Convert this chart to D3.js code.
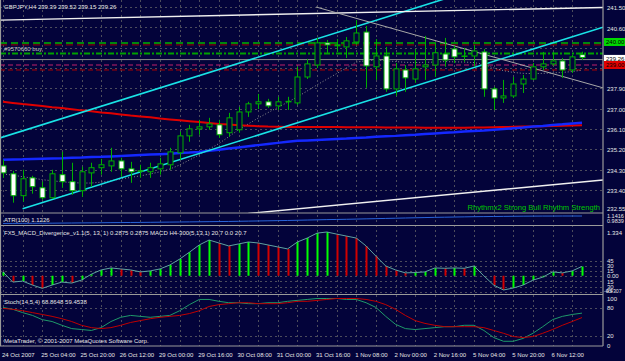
<!DOCTYPE html>
<html>
<head>
<meta charset="utf-8">
<title>GBPJPY,H4</title>
<script src="https://d3js.org/d3.v7.min.js"></script>
<style>
body { margin: 0; background: #03033a; }
svg { display: block; }
text { font-family: "Liberation Sans", Arial, sans-serif; }
</style>
</head>
<body>
<div id="chart"></div>
<script>
// time labels, one every 4 bars
const timeLabels = ["24 Oct 2007", "25 Oct 04:00", "25 Oct 20:00", "26 Oct 12:00", "29 Oct 00:00",
	"29 Oct 16:00", "30 Oct 08:00", "31 Oct 00:00", "31 Oct 16:00", "1 Nov 08:00", "2 Nov 00:00",
	"2 Nov 16:00", "5 Nov 04:00", "5 Nov 20:00", "6 Nov 12:00"];

// H4 candles
const opens = [234.46,234.11,233.14,233.93,233.49,233.05,234.07,233.76,233.36,234.15,
	234.38,234.46,234.68,234.33,234.24,234.20,234.33,234.51,235.04,235.79,
	236.10,236.19,236.28,235.93,236.06,236.85,237.21,237.30,237.12,237.30,
	237.25,238.40,238.93,239.91,239.82,239.73,239.95,240.39,238.85,239.33,
	237.87,238.71,238.31,238.85,238.93,239.42,239.64,239.33,239.33,239.51,
	237.87,237.47,237.56,238.09,238.31,238.85,238.98,239.11,238.71,239.39];
const highs = [234.73,234.24,234.29,234.02,233.76,234.29,235.08,234.60,234.42,234.60,
	234.77,235.26,234.82,234.64,234.51,234.60,234.82,235.26,235.97,236.28,
	236.50,236.59,236.50,236.81,237.07,237.30,237.65,237.43,237.52,237.52,
	238.85,239.20,240.13,240.04,240.08,240.17,240.92,240.66,240.08,239.73,
	239.02,238.93,239.64,240.22,239.91,240.13,239.78,239.69,239.82,239.64,
	237.96,238.27,238.40,238.49,239.02,239.51,239.51,239.24,239.38,239.52];
const lows = [233.93,232.83,232.87,233.23,232.96,233.00,233.49,233.18,233.09,233.54,
	234.07,234.20,233.98,233.71,233.93,233.93,234.07,234.29,234.73,235.53,
	235.84,236.06,235.70,235.75,235.93,236.63,236.98,237.03,236.94,236.94,
	237.16,238.31,238.80,239.47,239.51,239.24,239.82,237.92,238.27,237.74,
	237.56,237.74,238.14,238.27,238.40,238.85,239.02,239.07,238.85,237.52,
	236.94,237.25,237.47,237.69,238.27,238.71,238.89,238.36,238.58,239.15];
const closes = [234.15,233.14,233.89,233.54,233.05,234.11,233.76,233.36,234.20,234.38,
	234.51,234.68,234.33,234.20,234.22,234.38,234.55,235.08,235.79,236.10,
	236.19,236.32,235.84,236.59,236.85,237.21,237.30,237.12,237.30,237.32,
	238.40,238.98,239.91,239.82,239.78,240.00,240.35,238.89,239.33,237.87,
	238.76,238.36,238.76,238.93,239.47,239.15,239.29,239.33,239.55,237.87,
	237.47,237.56,238.09,238.31,238.85,238.98,239.11,238.71,239.29,239.26];

// moving averages
const redMA = [237.30,237.25,237.20,237.16,237.11,237.06,237.02,236.97,236.92,236.88,
	236.83,236.79,236.74,236.69,236.65,236.61,236.56,236.52,236.48,236.44,
	236.40,236.36,236.32,236.29,236.26,236.24,236.22,236.20,236.19,236.18,
	236.18,236.18,236.18,236.18,236.18,236.17,236.17,236.17,236.17,236.16,
	236.16,236.16,236.16,236.15,236.15,236.15,236.15,236.15,236.16,236.16,
	236.17,236.18,236.19,236.20,236.21,236.22,236.23,236.24,236.25,236.26];
const blueMA = [234.73,234.74,234.75,234.77,234.78,234.79,234.80,234.82,234.83,234.85,
	234.86,234.88,234.90,234.92,234.94,234.96,234.98,235.00,235.03,235.05,
	235.08,235.13,235.18,235.23,235.28,235.33,235.38,235.43,235.48,235.53,
	235.57,235.59,235.61,235.63,235.65,235.67,235.70,235.72,235.75,235.77,
	235.79,235.82,235.84,235.87,235.90,235.93,235.95,235.98,236.01,236.03,
	236.06,236.09,236.13,236.16,236.20,236.23,236.27,236.30,236.34,236.37];
const dottedMA = [234.10,234.05,233.98,233.92,233.85,233.80,233.76,233.72,233.70,233.70,
	233.74,233.80,233.88,233.95,234.02,234.10,234.20,234.32,234.50,234.72,
	234.95,235.20,235.45,235.75,236.06,236.32,236.58,236.82,237.05,237.28,
	237.52,237.78,238.05,238.30,238.55,238.80,239.06,239.12,239.15,239.12,
	239.08,239.05,239.04,239.05,239.06,239.08,239.07,239.06,239.04,238.95,
	238.80,238.68,238.60,238.56,238.55,238.56,238.58,238.60,238.64,238.70];

// trend lines: [bar, price] anchors, drawn as rays to the right
const cyanUpper = [[-0.3, 235.70], [40, 241.18]];
const cyanLower = [[2, 232.56], [40, 237.73]];
const whiteTop = [[-0.3, 240.92], [59, 241.46]];
const whiteBottom = [[25, 232.35], [59, 233.75]];
const grayDown = [[31.9, 241.5], [59, 238.18]];

// order / price levels
const takeProfit = 239.905;
const stopLevel = 239.82;
const openPrice = 239.44;
const bidPrice = 239.17;
const pinkLevel = 238.93;
const redLevel = 238.71;
const priceTicks = [241.50, 240.60, 239.70, 238.80, 237.90, 237.00, 236.10, 235.20, 234.30, 233.40];
const axisBoxes = [["240.00", 239.95], ["239.26", 239.20], ["239.00", 238.93]];

// ATR(100)
const atrValues = [0.985,0.986,0.987,0.988,0.989,0.990,0.992,0.993,0.995,0.996,
	0.998,1.000,1.001,1.003,1.004,1.006,1.008,1.010,1.012,1.014,
	1.016,1.018,1.020,1.022,1.025,1.028,1.031,1.034,1.037,1.040,
	1.044,1.048,1.052,1.056,1.059,1.062,1.066,1.070,1.074,1.078,
	1.082,1.086,1.090,1.094,1.098,1.101,1.104,1.107,1.110,1.112,
	1.114,1.116,1.118,1.120,1.121,1.122,1.122,1.123,1.123,1.1226];

// FX5 MACD divergence histogram
const macdValues = [0.12,-0.19,-0.16,-0.28,-0.38,-0.28,-0.19,-0.22,-0.13,0.05,
	0.18,0.24,0.21,0.18,0.12,0.15,0.21,0.33,0.51,0.72,
	0.94,1.09,1.00,0.91,0.97,1.03,1.00,0.94,0.88,0.82,
	1.03,1.15,1.30,1.334,1.27,1.21,1.15,0.91,0.60,0.30,
	0.18,0.09,0.10,0.12,0.24,0.23,0.24,0.23,0.30,0.00,
	-0.28,-0.4307,-0.37,-0.28,-0.13,-0.04,0.12,0.09,0.15,0.2875];
const macdTicks = [45, 30, 15, 0, -15, -30, -45];

// Stochastic(14,5,4)
const stochMain = [81,77,70,64,55,51,43,36,34,32,
	38,51,60,64,62,60,62,64,74,87,
	98,98,94,91,91,89,89,91,91,94,
	96,98,100,100,100,98,98,91,81,62,
	45,36,34,36,38,40,40,43,43,32,
	17,9,9,15,26,40,55,62,66,68.86];
const stochSignal = [79,77,74,70,66,62,57,51,43,38,
	36,38,43,49,53,57,60,62,64,68,
	74,83,87,89,91,91,89,89,89,91,
	94,94,96,98,100,100,100,98,94,87,
	77,64,53,47,43,40,40,40,40,38,
	32,26,19,17,19,26,34,43,51,59.45];
const stochTicks = [100, 80, 20, 0];

const W = 625, H = 361, axisX = 603;
const mainTop = 0, mainBottom = 213, atrBottom = 225.5, macdBottom = 294.5, stochBottom = 346;
const bg = "#03033a", gridColor = "#4c4c5c", textColor = "#e6e6e6";

const svg = d3.select("#chart").append("svg").attr("width", W).attr("height", H);
svg.append("rect").attr("width", W).attr("height", H).attr("fill", bg);

const x = d3.scaleLinear().domain([0, opens.length - 1]).range([3, 582]);
const y = d3.scaleLinear().domain([232.55, 241.50]).range([209, 7]);
const yAtr = d3.scaleLinear().domain([0.9839, 1.1416]).range([223.5, 215]);
const yMacd = d3.scaleLinear().domain([-0.4307, 1.334]).range([290, 232]);
const yMacd2 = d3.scaleLinear().domain([-45, 45]).range([291.8, 260.6]);
const yStoch = d3.scaleLinear().domain([0, 100]).range([345.5, 298.5]);

function clip(id, y0, y1) {
	svg.append("clipPath").attr("id", id).append("rect")
		.attr("x", 0).attr("y", y0).attr("width", axisX).attr("height", y1 - y0);
	return svg.append("g").attr("clip-path", "url(#" + id + ")");
}
const gMain = clip("cMain", mainTop, mainBottom);
const gAtr = clip("cAtr", mainBottom, atrBottom);
const gMacd = clip("cMacd", atrBottom, macdBottom);
const gStoch = clip("cStoch", macdBottom, stochBottom);

// vertical grid every 2 bars
const gridBars = d3.range(0, opens.length, 2);
[gMain, gAtr, gMacd, gStoch].forEach(g => {
	g.selectAll(null).data(gridBars).join("line")
		.attr("x1", d => Math.round(x(d)) + 0.5).attr("x2", d => Math.round(x(d)) + 0.5)
		.attr("y1", 0).attr("y2", stochBottom)
		.attr("stroke", gridColor).attr("stroke-dasharray", "2,3");
});

// horizontal grids
const hgrid = (g, data, scale) => g.selectAll(null).data(data).join("line")
	.attr("x1", 0).attr("x2", axisX)
	.attr("y1", d => Math.round(scale(d)) + 0.5).attr("y2", d => Math.round(scale(d)) + 0.5)
	.attr("stroke", gridColor).attr("stroke-dasharray", "2,3");
hgrid(gMain, priceTicks, y);
hgrid(gMacd, macdTicks, yMacd2);
hgrid(gStoch, [80, 20], yStoch);

// ---- main panel ----
function hline(g, price, color, dash, width) {
	g.append("line").attr("x1", 0).attr("x2", axisX)
		.attr("y1", y(price)).attr("y2", y(price))
		.attr("stroke", color).attr("stroke-width", width || 1)
		.attr("stroke-dasharray", dash);
}
hline(gMain, takeProfit, "#00b400", "7,4", 1.5);
hline(gMain, stopLevel, "#a00000", "7,4", 1);
hline(gMain, openPrice, "#00a000", "6,2,2,2", 2);
hline(gMain, bidPrice, "#8a8a8a", null, 1);
hline(gMain, pinkLevel, "#c0206a", "5,3", 1);
hline(gMain, redLevel, "#b00000", "5,3", 1);

const maLine = v => d3.line().x((d, i) => x(i)).y(d => y(d))(v);
gMain.append("path").attr("d", maLine(dottedMA)).attr("fill", "none")
	.attr("stroke", "#8c8c8c").attr("stroke-width", 1).attr("stroke-dasharray", "1,2");
gMain.append("path").attr("d", maLine(redMA)).attr("fill", "none")
	.attr("stroke", "#e00000").attr("stroke-width", 2);
gMain.append("path").attr("d", maLine(blueMA)).attr("fill", "none")
	.attr("stroke", "#1428ff").attr("stroke-width", 2.5);

function ray(g, pts, color, width) {
	const [[b1, p1], [b2, p2]] = pts;
	const bEnd = x.invert(axisX);
	const pEnd = p1 + (p2 - p1) * (bEnd - b1) / (b2 - b1);
	g.append("line")
		.attr("x1", x(b1)).attr("y1", y(p1))
		.attr("x2", x(bEnd)).attr("y2", y(pEnd))
		.attr("stroke", color).attr("stroke-width", width);
}
ray(gMain, cyanUpper, "#19e3e6", 1.6);
ray(gMain, cyanLower, "#19e3e6", 1.6);
ray(gMain, whiteTop, "#f0f0f0", 1.4);
ray(gMain, whiteBottom, "#f0f0f0", 1.4);
ray(gMain, grayDown, "#a8a8a8", 1);

// candles
const bars = d3.range(opens.length);
const candleColor = "#00b000";
gMain.selectAll(".wick").data(bars).join("line")
	.attr("x1", i => Math.round(x(i)) + 0.5).attr("x2", i => Math.round(x(i)) + 0.5)
	.attr("y1", i => y(highs[i])).attr("y2", i => y(lows[i]))
	.attr("stroke", candleColor);
gMain.selectAll(".body").data(bars).join("rect")
	.attr("x", i => Math.round(x(i)) - 2)
	.attr("width", 5)
	.attr("y", i => y(Math.max(opens[i], closes[i])))
	.attr("height", i => Math.max(0.5, Math.abs(y(opens[i]) - y(closes[i]))))
	.attr("fill", i => closes[i] < opens[i] ? "#ffffff" : bg)
	.attr("stroke", candleColor);

gMain.append("text").attr("x", 4).attr("y", 9).attr("fill", textColor).attr("font-size", 6)
	.text("GBPJPY,H4  239.39 239.52 239.15 239.26");
gMain.append("text").attr("x", 4).attr("y", 51).attr("fill", "#c8c8c8").attr("font-size", 6)
	.text("#9570660 buy");
gMain.append("text").attr("x", 600).attr("y", 210).attr("fill", "#00c800")
	.attr("font-size", 7.6).attr("text-anchor", "end")
	.text("Rhythmx2 Strong Bull Rhythm Strength");

// ---- ATR panel ----
gAtr.append("path").attr("d", d3.line().x((d, i) => x(i)).y(d => yAtr(d))(atrValues))
	.attr("fill", "none").attr("stroke", "#2a64d8").attr("stroke-width", 1);
gAtr.append("text").attr("x", 4).attr("y", 221.5).attr("fill", textColor).attr("font-size", 6)
	.text("ATR(100) 1.1226");

// ---- MACD panel ----
gMacd.selectAll(".hist").data(bars).join("line")
	.attr("x1", i => Math.round(x(i)) + 0.5).attr("x2", i => Math.round(x(i)) + 0.5)
	.attr("y1", yMacd(0)).attr("y2", i => yMacd(macdValues[i]))
	.attr("stroke", i => i > 0 && macdValues[i] < macdValues[i - 1] ? "#d00000" : "#00ff00")
	.attr("stroke-width", 2);
gMacd.append("path").attr("d", d3.line().x((d, i) => x(i)).y(d => yMacd(d))(macdValues))
	.attr("fill", "none").attr("stroke", "#5fa3a0").attr("stroke-width", 1);
gMacd.append("text").attr("x", 4).attr("y", 235).attr("fill", textColor).attr("font-size", 6)
	.text("FX5_MACD_Divergence_v1.1(5, 13, 1) 0.2875 0.2875  MACD H4-300(5,13,1) 20.7 0.0 20.7");

// ---- Stochastic panel ----
const stochLine = d3.line().x((d, i) => x(i)).y(d => yStoch(d));
gStoch.append("path").attr("d", stochLine(stochMain))
	.attr("fill", "none").attr("stroke", "#1f9a6a").attr("stroke-width", 1);
gStoch.append("path").attr("d", stochLine(stochSignal))
	.attr("fill", "none").attr("stroke", "#c00000").attr("stroke-width", 1);
gStoch.append("text").attr("x", 4).attr("y", 304).attr("fill", textColor).attr("font-size", 6)
	.text("Stoch(14,5,4) 68.8648 59.4538");
gStoch.append("text").attr("x", 4).attr("y", 343).attr("fill", textColor).attr("font-size", 6)
	.text("MetaTrader, \u00a9 2001-2007 MetaQuotes Software Corp.");

// ---- frames ----
const frame = svg.append("g").attr("stroke", "#9a9a9a").attr("stroke-width", 1.2);
[mainBottom, atrBottom, macdBottom, stochBottom].forEach(v =>
	frame.append("line").attr("x1", 0).attr("x2", axisX).attr("y1", v).attr("y2", v));
frame.append("line").attr("x1", axisX).attr("x2", axisX).attr("y1", 0).attr("y2", stochBottom);
frame.append("line").attr("x1", 0.5).attr("x2", 0.5).attr("y1", 0).attr("y2", stochBottom);

// ---- right axis labels ----
const axisText = (yy, t, xx, fs) => svg.append("text").attr("x", xx || 607).attr("y", yy + 2.2)
	.attr("fill", textColor).attr("font-size", fs || 6).text(t);
const boxColors = ["#00d800", "#ffffff", "#e00000"];
// tick labels hidden behind a price box are skipped, as on the terminal
priceTicks.filter(p => !axisBoxes.some(b => Math.abs(y(b[1]) - y(p)) < 6))
	.forEach(p => axisText(y(p) + 1, p.toFixed(2)));
axisText(209, "232.55");
axisBoxes.forEach(([t, p], k) => {
	svg.append("rect").attr("x", 604).attr("y", y(p) - 4).attr("width", 21).attr("height", 8)
		.attr("fill", boxColors[k]);
	svg.append("text").attr("x", 606).attr("y", y(p) + 2.2).attr("fill", "#000000")
		.attr("font-size", 6).text(t);
});
axisText(215.5, "1.1416", 607, 5.5);
axisText(220.5, "0.9839", 607, 5.5);
axisText(233, "1.334");
macdTicks.filter(v => v > -45).forEach(v => axisText(yMacd2(v), v === 0 ? "0.00" : String(Math.abs(v))));
axisText(yMacd2(-45) - 1, "45", 606, 5.5);
axisText(291, "-0.4307", 604, 5.2);
stochTicks.forEach(v => axisText(yStoch(v), String(v)));

// ---- time axis ----
svg.selectAll(".tl").data(timeLabels).join("text")
	.attr("x", (d, k) => x(k * 4) - 1).attr("y", 356.5)
	.attr("fill", textColor).attr("font-size", 6).text(d => d);
</script>
</body>
</html>
